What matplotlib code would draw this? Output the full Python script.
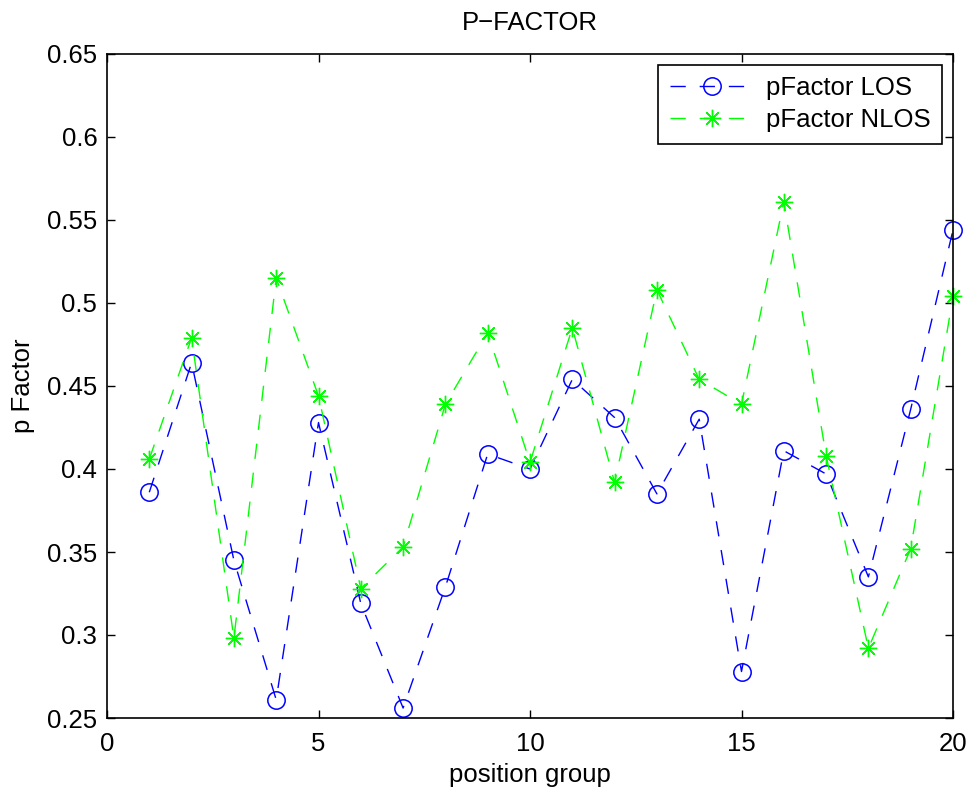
import matplotlib
matplotlib.use("Agg")
import matplotlib.pyplot as plt

plt.rcParams['font.family'] = ['Liberation Sans', 'DejaVu Sans']

groups = list(range(1, 21))
pfactor_los = [0.386, 0.464, 0.345, 0.261, 0.428, 0.319, 0.256, 0.329, 0.409, 0.400,
               0.454, 0.431, 0.385, 0.430, 0.278, 0.411, 0.397, 0.335, 0.436, 0.544]
pfactor_nlos = [0.406, 0.479, 0.298, 0.515, 0.444, 0.328, 0.353, 0.439, 0.482, 0.404,
                0.485, 0.392, 0.508, 0.454, 0.439, 0.561, 0.408, 0.292, 0.352, 0.504]

fs = 18.5

fig = plt.figure(figsize=(9.71, 7.90), dpi=100)
ax = fig.add_axes([107 / 971, 1 - 718 / 790, (953 - 107) / 971, (718 - 54) / 790])

dash = (0, (11, 10))
ax.plot(groups, pfactor_los, linestyle=dash, color='#0000ff', lw=1,
        marker='o', markersize=12.5, markerfacecolor='none', markeredgewidth=1.1,
        label='pFactor LOS', clip_on=False)
ax.plot(groups, pfactor_nlos, linestyle=dash, color='#00ff00', lw=1,
        marker=(8, 2, 0), markersize=12.5, markeredgewidth=1.0,
        label='pFactor NLOS', clip_on=False)

ax.set_xlim(0, 20)
ax.set_ylim(0.25, 0.65)
ax.set_xticks([0, 5, 10, 15, 20])
ax.set_yticks([0.25, 0.3, 0.35, 0.4, 0.45, 0.5, 0.55, 0.6, 0.65])
ax.set_yticklabels(['0.25', '0.3', '0.35', '0.4', '0.45', '0.5', '0.55', '0.6', '0.65'])
ax.tick_params(direction='in', top=True, right=True, labelsize=fs, length=6, width=1)
ax.tick_params(axis='x', pad=10)
ax.tick_params(axis='y', pad=7)
for s in ax.spines.values():
    s.set_linewidth(1.2)

ax.set_title('P\u2212FACTOR', fontsize=fs, pad=17)
ax.set_xlabel('position group', fontsize=fs, labelpad=5)
ax.set_ylabel('p Factor', fontsize=fs, labelpad=9)

leg = ax.legend(loc='upper right', fontsize=fs, handlelength=3.3, handletextpad=0.45,
                fancybox=False, edgecolor='black', framealpha=1, borderaxespad=0.42,
                borderpad=0.45, labelspacing=0.3)
leg.get_frame().set_linewidth(1.2)

fig.savefig('out.png', dpi=100)
